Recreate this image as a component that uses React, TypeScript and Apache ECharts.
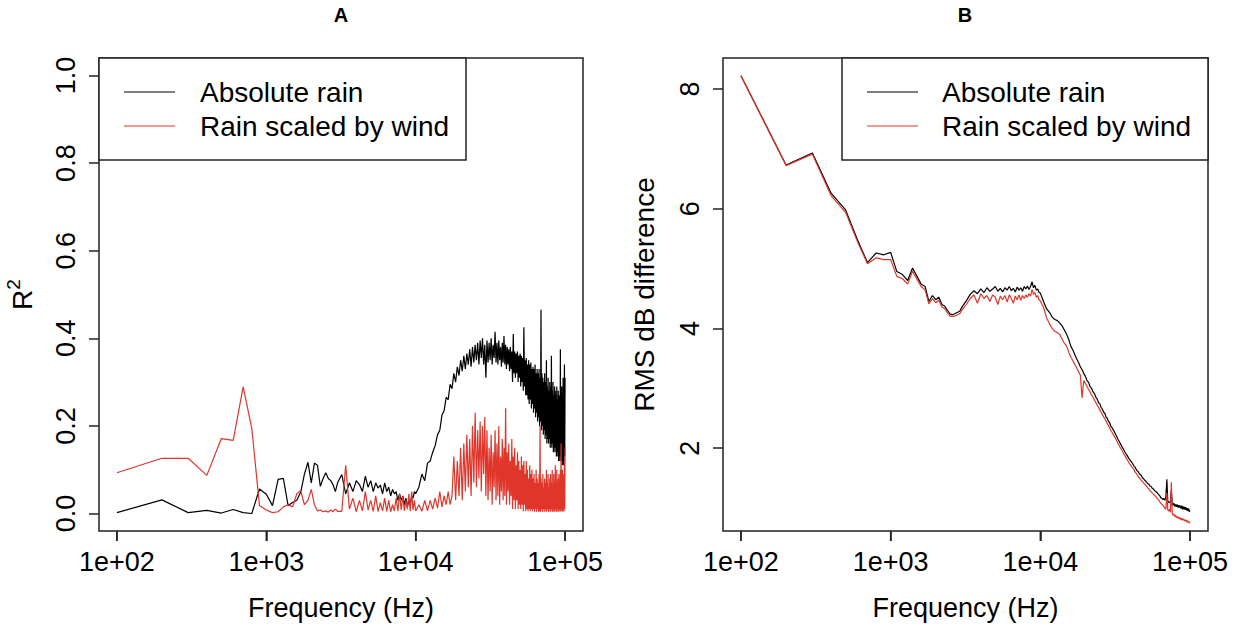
import React, { useEffect, useRef } from "react";
import * as echarts from "echarts";

// Frequency bins (Hz) up to 30 kHz, shared by both panels
const FREQ_TO_30K = [
  100, 200, 300, 400, 500, 600, 700, 800, 900, 1000,
  1100, 1200, 1300, 1400, 1500, 1600, 1700, 1800, 1900, 2000,
  2100, 2200, 2300, 2400, 2500, 2600, 2700, 2800, 2900, 3000,
  3200, 3400, 3600, 3800, 4000, 4200, 4400, 4600, 4800, 5000,
  5200, 5400, 5600, 5800, 6000, 6200, 6400, 6600, 6800, 7000,
  7200, 7400, 7600, 7800, 8000, 8200, 8400, 8600, 8800, 9000,
  9200, 9400, 9600, 9800, 10000,
  10500, 11000, 11500, 12000, 12500, 13000, 13500, 14000, 14500, 15000,
  15500, 16000, 16500, 17000, 17500, 18000, 18500, 19000, 19500, 20000,
  20500, 21000, 21500, 22000, 22500, 23000, 23500, 24000, 24500, 25000,
  25500, 26000, 26500, 27000, 27500, 28000, 28500, 29000, 29500, 30000,
];

// Bins above 30 kHz used by the RMS panel
const FREQ_ABOVE_30K_RMS = [
  31000, 32000, 33000, 34000, 35000, 36000, 37000, 38000, 39000, 40000,
  41000, 42000, 43000, 44000, 45000, 46000, 47000, 48000, 49000, 50000,
  51000, 52000, 53000, 54000, 55000, 56000, 57000, 58000, 59000, 60000,
  61000, 62000, 63000, 64000, 65000, 66000, 67000, 68000, 69000, 70000,
  71000, 72000, 73000, 74000, 75000, 76000, 77000, 78000, 79000, 80000,
  81000, 82000, 83000, 84000, 85000, 86000, 87000, 88000, 89000, 90000,
  91000, 92000, 93000, 94000, 95000, 96000, 97000, 98000, 99000, 100000,
];

// Bins above 30 kHz used by the R^2 panel
const FREQ_ABOVE_30K_R2 = [
  30500, 31000, 31500, 32000, 32500, 33000, 33500, 34000, 34500, 35000,
  35500, 36000, 36500, 37000, 37500, 38000, 38500, 39000, 39500, 40000,
  40500, 41000, 41500, 42000, 42500, 43000, 43500, 44000, 44500, 45000,
  45500, 46000, 46500, 47000, 47500, 48000, 48500, 49000, 49500, 50000,
  50500, 51000, 51500, 52000, 52500, 53000, 53500, 54000, 54500, 55000,
  55500, 56000, 56500, 57000, 57500, 58000, 58500, 59000, 59500, 60000,
  60500, 61000, 61500, 62000, 62500, 63000, 63500, 64000, 64500, 65000,
  65500, 66000, 66500, 67000, 67500, 68000, 68500, 69000, 69500, 70000,
  70500, 71000, 71500, 72000, 72500, 73000, 73500, 74000, 74500, 75000,
  75500, 76000, 76500, 77000, 77500, 78000, 78500, 79000, 79500, 80000,
  80500, 81000, 81500, 82000, 82500, 83000, 83500, 84000, 84500, 85000,
  85500, 86000, 86500, 87000, 87500, 88000, 88500, 89000, 89500, 90000,
  90500, 91000, 91500, 92000, 92500, 93000, 93500, 94000, 94500, 95000,
  95500, 96000, 96500, 97000, 97500, 98000, 98500, 99000, 99500, 100000,
];

const FREQ_R2 = [...FREQ_TO_30K, ...FREQ_ABOVE_30K_R2];
const FREQ_RMS = [...FREQ_TO_30K, ...FREQ_ABOVE_30K_RMS];

// Panel A: R^2 per frequency bin
const ABS_RAIN_R2 = [
  0.002, 0.031, 0.002, 0.007, 0.001, 0.009, 0.002, 0.0, 0.056, 0.044,
  0.018, 0.078, 0.08, 0.018, 0.025, 0.03, 0.049, 0.09, 0.117, 0.07,
  0.115, 0.11, 0.062, 0.08, 0.093, 0.08, 0.075, 0.065, 0.05, 0.07,
  0.089, 0.045, 0.07, 0.05, 0.075, 0.066, 0.05, 0.085, 0.06, 0.075,
  0.05, 0.07, 0.058, 0.065, 0.045, 0.07, 0.05, 0.06, 0.04, 0.055,
  0.045, 0.05, 0.03, 0.045, 0.03, 0.04, 0.02, 0.035, 0.015, 0.03,
  0.02, 0.04, 0.035, 0.05, 0.045,
  0.06, 0.09, 0.075, 0.115, 0.12, 0.14, 0.155, 0.18, 0.19, 0.225,
  0.235, 0.265, 0.26, 0.295, 0.285, 0.32, 0.3, 0.335, 0.315, 0.35,
  0.325, 0.36, 0.33, 0.365, 0.34, 0.375, 0.335, 0.38, 0.345, 0.385,
  0.35, 0.39, 0.34, 0.395, 0.355, 0.4, 0.34, 0.385, 0.31, 0.395,
  0.345, 0.39, 0.35, 0.4, 0.34, 0.385, 0.355, 0.415, 0.345, 0.39,
  0.34, 0.395, 0.35, 0.38, 0.335, 0.39, 0.345, 0.405, 0.34, 0.385,
  0.33, 0.38, 0.34, 0.375, 0.325, 0.38, 0.33, 0.37, 0.3, 0.41,
  0.32, 0.37, 0.31, 0.365, 0.32, 0.37, 0.3, 0.36, 0.31, 0.365,
  0.29, 0.36, 0.3, 0.355, 0.28, 0.425, 0.29, 0.35, 0.27, 0.355,
  0.27, 0.34, 0.26, 0.35, 0.25, 0.34, 0.26, 0.345, 0.24, 0.33,
  0.25, 0.335, 0.23, 0.33, 0.24, 0.34, 0.22, 0.32, 0.23, 0.33,
  0.21, 0.32, 0.22, 0.33, 0.2, 0.31, 0.21, 0.465, 0.19, 0.32,
  0.2, 0.31, 0.18, 0.3, 0.19, 0.32, 0.17, 0.3, 0.18, 0.35,
  0.16, 0.29, 0.17, 0.31, 0.16, 0.28, 0.17, 0.3, 0.15, 0.29,
  0.16, 0.36, 0.15, 0.28, 0.16, 0.3, 0.14, 0.27, 0.15, 0.29,
  0.14, 0.28, 0.15, 0.27, 0.13, 0.29, 0.14, 0.26, 0.13, 0.28,
  0.12, 0.27, 0.13, 0.26, 0.12, 0.375, 0.13, 0.27, 0.12, 0.29,
  0.11, 0.26, 0.12, 0.31, 0.11, 0.28, 0.12, 0.34, 0.13, 0.31,
];

const WIND_RAIN_R2 = [
  0.093, 0.126, 0.126, 0.087, 0.171, 0.167, 0.289, 0.194, 0.018, 0.008,
  0.002, 0.004, 0.015, 0.02, 0.015, 0.045, 0.052, 0.02, 0.03, 0.055,
  0.02, 0.006, 0.008, 0.004, 0.006, 0.003, 0.008, 0.004, 0.01, 0.005,
  0.005, 0.11, 0.01, 0.035, 0.004, 0.03, 0.006, 0.05, 0.008, 0.03,
  0.005, 0.04, 0.004, 0.025, 0.006, 0.035, 0.005, 0.03, 0.004, 0.02,
  0.006, 0.035, 0.005, 0.045, 0.008, 0.04, 0.006, 0.03, 0.01, 0.045,
  0.005, 0.05, 0.008, 0.03, 0.006,
  0.02, 0.005, 0.03, 0.006, 0.03, 0.01, 0.035, 0.012, 0.05, 0.015,
  0.04, 0.02, 0.05, 0.02, 0.04, 0.13, 0.03, 0.12, 0.04, 0.15,
  0.03, 0.16, 0.05, 0.18, 0.06, 0.17, 0.04, 0.2, 0.07, 0.23,
  0.06, 0.19, 0.08, 0.21, 0.05, 0.2, 0.09, 0.22, 0.04, 0.19,
  0.03, 0.15, 0.05, 0.18, 0.02, 0.14, 0.06, 0.19, 0.03, 0.16,
  0.04, 0.2, 0.02, 0.13, 0.05, 0.17, 0.03, 0.15, 0.04, 0.24,
  0.02, 0.14, 0.05, 0.16, 0.02, 0.12, 0.04, 0.17, 0.01, 0.13,
  0.03, 0.15, 0.01, 0.11, 0.03, 0.14, 0.01, 0.12, 0.02, 0.1,
  0.01, 0.13, 0.02, 0.11, 0.005, 0.12, 0.02, 0.09, 0.005, 0.12,
  0.01, 0.1, 0.005, 0.08, 0.01, 0.11, 0.005, 0.09, 0.01, 0.1,
  0.005, 0.08, 0.01, 0.09, 0.004, 0.07, 0.01, 0.1, 0.004, 0.08,
  0.01, 0.07, 0.004, 0.09, 0.005, 0.2, 0.004, 0.08, 0.01, 0.07,
  0.004, 0.09, 0.01, 0.06, 0.004, 0.08, 0.01, 0.07, 0.004, 0.1,
  0.005, 0.07, 0.01, 0.09, 0.004, 0.06, 0.01, 0.08, 0.004, 0.09,
  0.005, 0.07, 0.01, 0.1, 0.004, 0.06, 0.01, 0.09, 0.004, 0.07,
  0.005, 0.11, 0.01, 0.06, 0.004, 0.1, 0.01, 0.07, 0.004, 0.08,
  0.005, 0.09, 0.01, 0.07, 0.004, 0.1, 0.01, 0.16, 0.005, 0.08,
  0.01, 0.1, 0.004, 0.07, 0.01, 0.09, 0.005, 0.12, 0.01, 0.15,
];

// Panel B: RMS dB difference per frequency bin
const ABS_RAIN_RMS = [
  8.22, 6.73, 6.93, 6.26, 5.98, 5.48, 5.1, 5.26, 5.23, 5.27,
  4.95, 4.9, 4.8, 5.01, 4.87, 4.74, 4.7, 4.45, 4.55, 4.48,
  4.52, 4.4, 4.37, 4.3, 4.24, 4.23, 4.25, 4.27, 4.29, 4.36,
  4.46, 4.57, 4.63, 4.58, 4.66, 4.6, 4.68, 4.62, 4.66, 4.7,
  4.62, 4.67, 4.61, 4.68, 4.64, 4.7, 4.63, 4.67, 4.61, 4.69,
  4.64, 4.68, 4.62, 4.7, 4.66, 4.71, 4.65, 4.7, 4.78, 4.68,
  4.72, 4.64, 4.66, 4.6, 4.59,
  4.45, 4.33, 4.27, 4.19, 4.15, 4.13, 4.09, 4.04, 3.97, 3.9,
  3.81, 3.7, 3.64, 3.56, 3.49, 3.43, 3.36, 3.31, 3.25, 3.2,
  3.13, 3.1, 3.03, 3.0, 2.94, 2.91, 2.85, 2.82, 2.76, 2.74,
  2.68, 2.65, 2.6, 2.58, 2.52, 2.5, 2.45, 2.43, 2.37, 2.35,
  2.29, 2.22, 2.15, 2.09, 2.03, 1.98, 1.92, 1.88, 1.83, 1.79,
  1.76, 1.71, 1.68, 1.63, 1.61, 1.57, 1.55, 1.51, 1.49, 1.46,
  1.44, 1.41, 1.4, 1.37, 1.36, 1.33, 1.32, 1.29, 1.28, 1.26,
  1.24, 1.22, 1.2, 1.17, 1.16, 1.14, 1.16, 1.13, 1.2, 1.48,
  1.12, 1.1, 1.09, 1.11, 1.3, 1.07, 1.05, 1.08, 1.03, 1.06,
  1.02, 1.06, 1.01, 1.05, 1.01, 1.04, 0.99, 1.04, 0.98, 1.03,
  0.98, 1.02, 0.97, 1.01, 0.96, 1.0, 0.95, 0.99, 0.94, 0.96,
];

const WIND_RAIN_RMS = [
  8.22, 6.72, 6.91, 6.22, 5.94, 5.45, 5.08, 5.18, 5.15, 5.15,
  4.87, 4.83, 4.74, 4.96, 4.82, 4.7, 4.64, 4.41, 4.5, 4.43,
  4.47, 4.36, 4.33, 4.26, 4.2, 4.2, 4.21, 4.23, 4.25, 4.31,
  4.4, 4.5, 4.56, 4.42, 4.58, 4.5, 4.55, 4.45, 4.56, 4.52,
  4.4, 4.54, 4.48, 4.55, 4.44, 4.56, 4.5, 4.42, 4.54, 4.48,
  4.56, 4.47, 4.55, 4.5, 4.56, 4.52, 4.58, 4.54, 4.65, 4.57,
  4.6, 4.52, 4.55, 4.48, 4.46,
  4.35, 4.18, 4.08, 4.0, 3.95, 3.93, 3.9, 3.82, 3.75, 3.7,
  3.6, 3.52, 3.46, 3.4, 3.34, 3.28, 3.22, 2.84, 3.13, 3.08,
  3.03, 2.98, 2.94, 2.89, 2.85, 2.8, 2.76, 2.72, 2.68, 2.64,
  2.6, 2.56, 2.52, 2.49, 2.45, 2.41, 2.38, 2.34, 2.3, 2.27,
  2.21, 2.15, 2.08, 2.02, 1.97, 1.91, 1.86, 1.81, 1.76, 1.72,
  1.68, 1.65, 1.6, 1.57, 1.53, 1.5, 1.47, 1.44, 1.42, 1.39,
  1.37, 1.34, 1.32, 1.29, 1.27, 1.25, 1.23, 1.21, 1.19, 1.17,
  1.15, 1.13, 1.1, 1.08, 1.06, 1.04, 1.02, 1.0, 0.98, 1.25,
  0.97, 0.95, 0.98, 0.93, 1.43, 0.92, 0.88, 0.9, 0.86, 0.88,
  0.84, 0.86, 0.83, 0.85, 0.82, 0.84, 0.8, 0.83, 0.8, 0.82,
  0.79, 0.81, 0.78, 0.8, 0.77, 0.79, 0.76, 0.78, 0.75, 0.76,
];

// Tick positions (log10 of Hz for the frequency axes)
const DECADE_TICKS = [2, 3, 4, 5];
const R2_TICKS = [0, 0.2, 0.4, 0.6, 0.8, 1.0];
const RMS_TICKS = [2, 4, 6, 8];

const SERIES_NAMES = ["Absolute rain", "Rain scaled by wind"];
const PANEL_TITLES = ["A", "B"];
const X_TITLE = "Frequency (Hz)";
const Y_TITLE_B = "RMS dB difference";

const BLACK = "#000000";
const FRAME = "#222222";
const RED = "#e0352a";
const FONT = "'Liberation Sans', Arial, Helvetica, sans-serif";
const FS = 27;
const TICK_LEN = 10;
const FRAME_W = 1.5;
const DATA_W = 1.2;

// Axis extents of the two panels (x in log10 Hz)
const X_RANGE = [1.88, 5.12];
const Y_RANGE_R2 = [-0.04, 1.04];
const Y_RANGE_RMS = [0.617, 8.517];

const toPairs = (freqs: number[], vals: number[]) => freqs.map((f, i) => [Math.log10(f), vals[i]]);

const decadeLabel = (v: number) => "1e+" + String(Math.round(v)).padStart(2, "0");

function freqAxis(gridIndex: number) {
  return {
    gridIndex,
    type: "value",
    position: "bottom",
    min: X_RANGE[0],
    max: X_RANGE[1],
    axisLine: { show: false, onZero: false },
    splitLine: { show: false },
    axisTick: {
      show: true,
      inside: false,
      length: TICK_LEN,
      customValues: DECADE_TICKS,
      lineStyle: { color: FRAME, width: FRAME_W },
    },
    axisLabel: {
      customValues: DECADE_TICKS,
      formatter: decadeLabel,
      margin: 17,
      fontSize: FS,
      fontFamily: FONT,
      color: BLACK,
    },
    name: X_TITLE,
    nameLocation: "middle",
    nameGap: 63,
    nameTextStyle: { fontSize: FS, fontFamily: FONT, color: BLACK },
  };
}

function valueAxis(gridIndex: number, range: number[], ticks: number[], fmt: (v: number) => string) {
  return {
    gridIndex,
    type: "value",
    position: "left",
    min: range[0],
    max: range[1],
    axisLine: { show: false, onZero: false },
    splitLine: { show: false },
    axisTick: { show: true, inside: false, length: TICK_LEN, customValues: ticks, lineStyle: { color: FRAME, width: FRAME_W } },
    axisLabel: {
      customValues: ticks,
      formatter: fmt,
      rotate: 90,
      margin: 20,
      fontSize: FS,
      fontFamily: FONT,
      color: BLACK,
    },
  };
}

function legendGraphic(id: string, x: number, width: number, textX: number) {
  const textStyle = (text: string) => ({
    text,
    fontSize: 28,
    fontFamily: FONT,
    fill: BLACK,
    align: "left",
    verticalAlign: "middle",
    textAlign: "left",
    textVerticalAlign: "middle",
  });
  return {
    id,
    type: "group",
    x,
    y: 58,
    z: 100,
    children: [
      {
        type: "rect",
        shape: { x: 0, y: 0, width, height: 102 },
        style: { fill: "#ffffff", stroke: FRAME, lineWidth: FRAME_W },
      },
      { type: "line", shape: { x1: 25, y1: 34, x2: 76, y2: 34 }, style: { stroke: BLACK, lineWidth: DATA_W } },
      { type: "line", shape: { x1: 25, y1: 68, x2: 76, y2: 68 }, style: { stroke: RED, lineWidth: DATA_W } },
      { type: "text", x: textX, y: 34, style: textStyle(SERIES_NAMES[0]) },
      { type: "text", x: textX, y: 68, style: textStyle(SERIES_NAMES[1]) },
    ],
  };
}

function panelTitle(id: string, text: string, x: number) {
  return {
    id,
    type: "text",
    x,
    y: 15,
    style: {
      text,
      fontSize: 20,
      fontWeight: "bold",
      fontFamily: FONT,
      fill: BLACK,
      align: "center",
      verticalAlign: "middle",
      textAlign: "center",
      textVerticalAlign: "middle",
    },
  };
}

export default function App() {
  const ref = useRef<HTMLDivElement>(null);

  useEffect(() => {
    if (!ref.current) return;
    const chart = echarts.init(ref.current, undefined, { renderer: "svg" });

    const grids = [
      { left: 99, top: 58, width: 484, height: 473 },
      { left: 723, top: 58, width: 485, height: 473 },
    ];

    // Decade tick strokes below each panel's frame
    const tickMarks: any[] = [];
    grids.forEach((g, gi) => {
      DECADE_TICKS.forEach((v) => {
        const x = g.left + ((v - X_RANGE[0]) / (X_RANGE[1] - X_RANGE[0])) * g.width;
        const y = g.top + g.height;
        tickMarks.push({
          id: `xtick-${gi}-${v}`,
          type: "line",
          z: 500,
          silent: true,
          shape: { x1: x, y1: y, x2: x, y2: y + TICK_LEN },
          style: { stroke: FRAME, lineWidth: FRAME_W },
        });
      });
    });

    const option = {
      animation: false,
      backgroundColor: "#ffffff",
      grid: grids.map((g) => ({ ...g, show: true, borderColor: FRAME, borderWidth: FRAME_W, backgroundColor: "transparent" })),
      xAxis: [freqAxis(0), freqAxis(1)],
      yAxis: [
        {
          ...valueAxis(0, Y_RANGE_R2, R2_TICKS, (v: number) => v.toFixed(1)),
          name: "{r|R}{s|2}",
          nameLocation: "middle",
          nameGap: 58,
          nameRotate: 90,
          nameTextStyle: {
            fontSize: 28,
            fontFamily: FONT,
            color: BLACK,
            rich: {
              r: { fontSize: 28, fontFamily: FONT, color: BLACK },
              s: { fontSize: 19, fontFamily: FONT, color: BLACK, padding: [0, 0, 18, 0] },
            },
          },
        },
        {
          ...valueAxis(1, Y_RANGE_RMS, RMS_TICKS, (v: number) => String(v)),
          name: Y_TITLE_B,
          nameLocation: "middle",
          nameGap: 65,
          nameRotate: 90,
          nameTextStyle: { fontSize: 28, fontFamily: FONT, color: BLACK },
        },
      ],
      series: [
        { name: SERIES_NAMES[0], type: "line", xAxisIndex: 0, yAxisIndex: 0, data: toPairs(FREQ_R2, ABS_RAIN_R2), symbol: "none", lineStyle: { color: BLACK, width: DATA_W }, itemStyle: { color: BLACK }, silent: true },
        { name: SERIES_NAMES[1], type: "line", xAxisIndex: 0, yAxisIndex: 0, data: toPairs(FREQ_R2, WIND_RAIN_R2), symbol: "none", lineStyle: { color: RED, width: DATA_W }, itemStyle: { color: RED }, silent: true },
        { name: SERIES_NAMES[0], type: "line", xAxisIndex: 1, yAxisIndex: 1, data: toPairs(FREQ_RMS, ABS_RAIN_RMS), symbol: "none", lineStyle: { color: BLACK, width: DATA_W }, itemStyle: { color: BLACK }, silent: true },
        { name: SERIES_NAMES[1], type: "line", xAxisIndex: 1, yAxisIndex: 1, data: toPairs(FREQ_RMS, WIND_RAIN_RMS), symbol: "none", lineStyle: { color: RED, width: DATA_W }, itemStyle: { color: RED }, silent: true },
      ],
      graphic: [
        panelTitle("title-a", PANEL_TITLES[0], 341),
        panelTitle("title-b", PANEL_TITLES[1], 965),
        legendGraphic("legend-a", 99, 367, 101),
        legendGraphic("legend-b", 842, 366, 100),
        ...tickMarks,
      ],
    };

    chart.setOption(option as any);
    return () => chart.dispose();
  }, []);

  return (
    <div
      ref={ref}
      style={{ position: "fixed", left: 0, top: 0, width: 1244, height: 632, background: "#fff" }}
    />
  );
}
